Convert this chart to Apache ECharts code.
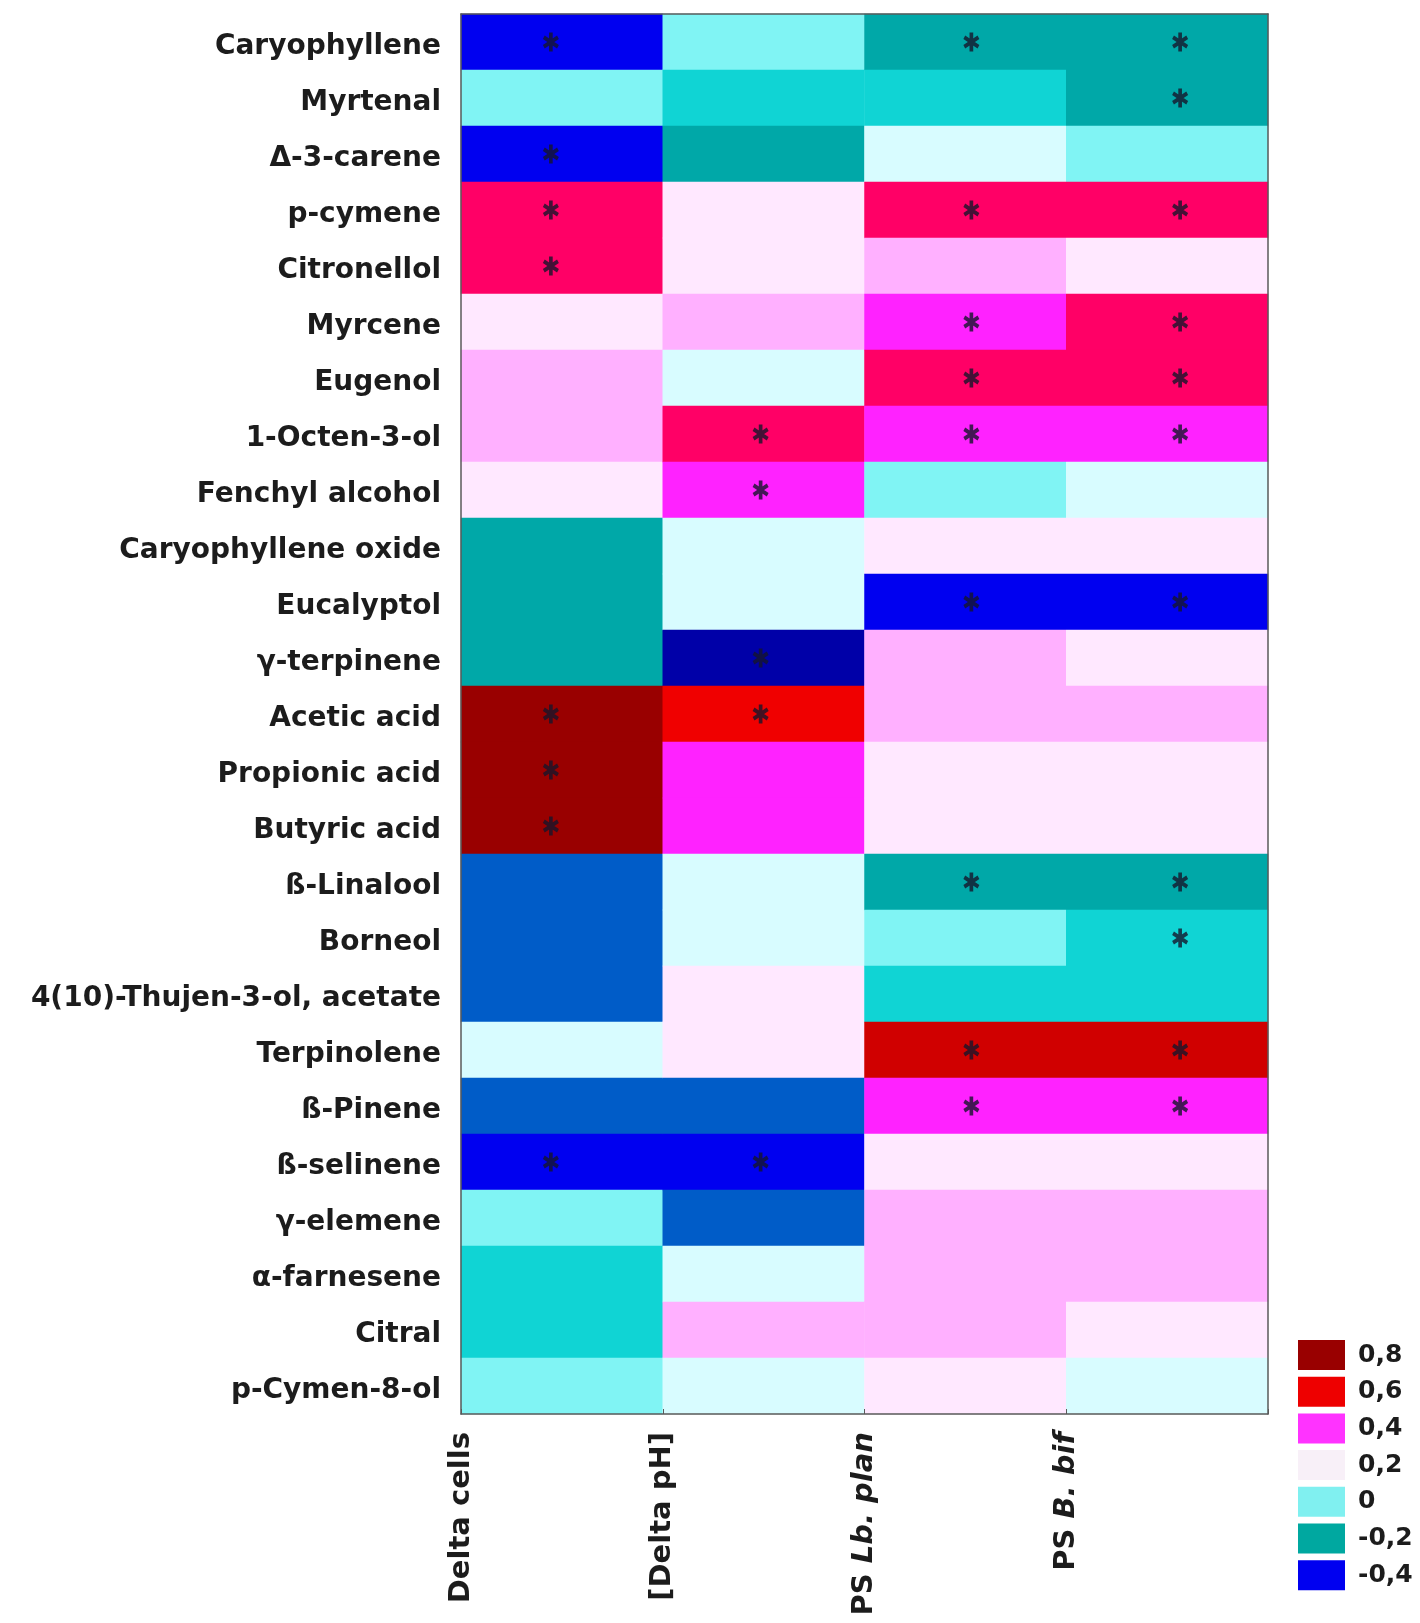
<!DOCTYPE html>
<html>
<head>
<meta charset="utf-8">
<title>Correlation heatmap of volatile compounds</title>
<script src="https://cdn.jsdelivr.net/npm/echarts@6/dist/echarts.min.js"></script>
<style>
  html, body { margin: 0; padding: 0; background: #ffffff; }
  #chart { width: 1420px; height: 1623px; }
</style>
</head>
<body>
<div id="chart"></div>
<script>
// Compounds, top to bottom
const compounds = [
  'Caryophyllene', 'Myrtenal', 'Δ-3-carene', 'p-cymene', 'Citronellol',
  'Myrcene', 'Eugenol', '1-Octen-3-ol', 'Fenchyl alcohol', 'Caryophyllene oxide',
  'Eucalyptol', 'γ-terpinene', 'Acetic acid', 'Propionic acid', 'Butyric acid',
  'ß-Linalool', 'Borneol', '4(10)-Thujen-3-ol, acetate', 'Terpinolene', 'ß-Pinene',
  'ß-selinene', 'γ-elemene', 'α-farnesene', 'Citral', 'p-Cymen-8-ol'
];

// Response variables (columns)
const variables = ['Delta cells', '[Delta pH]', 'PS Lb. plan', 'PS B. bif'];

// Correlation coefficients, one array per variable (same order as compounds)
const deltaCells = [-0.4, 0.0, -0.4, 0.5, 0.5, 0.2, 0.3, 0.3, 0.2, -0.2,
                    -0.2, -0.2, 0.8, 0.8, 0.8, -0.3, -0.3, -0.3, 0.1, -0.3,
                    -0.4, 0.0, -0.1, -0.1, 0.0];
const deltaPH    = [0.0, -0.1, -0.2, 0.2, 0.2, 0.3, 0.1, 0.5, 0.4, 0.1,
                    0.1, -0.5, 0.6, 0.4, 0.4, 0.1, 0.1, 0.2, 0.2, -0.3,
                    -0.4, -0.3, 0.1, 0.3, 0.1];
const psLbPlan   = [-0.2, -0.1, 0.1, 0.5, 0.3, 0.4, 0.5, 0.4, 0.0, 0.2,
                    -0.4, 0.3, 0.3, 0.2, 0.2, -0.2, 0.0, -0.1, 0.7, 0.4,
                    0.2, 0.3, 0.3, 0.3, 0.2];
const psBBif     = [-0.2, -0.2, 0.0, 0.5, 0.2, 0.5, 0.5, 0.4, 0.1, 0.2,
                    -0.4, 0.2, 0.3, 0.2, 0.2, -0.2, -0.1, -0.1, 0.7, 0.4,
                    0.2, 0.3, 0.3, 0.2, 0.1];

// Significance flags (1 = marked with an asterisk)
const sigDeltaCells = [1,0,1,1,1,0,0,0,0,0, 0,0,1,1,1,0,0,0,0,0, 1,0,0,0,0];
const sigDeltaPH    = [0,0,0,0,0,0,0,1,1,0, 0,1,1,0,0,0,0,0,0,0, 1,0,0,0,0];
const sigPsLbPlan   = [1,0,0,1,0,1,1,1,0,0, 1,0,0,0,0,1,0,0,1,1, 0,0,0,0,0];
const sigPsBBif     = [1,1,0,1,0,1,1,1,0,0, 1,0,0,0,0,1,1,0,1,1, 0,0,0,0,0];

// Legend levels
const legendValues = [-0.4, -0.2, 0, 0.2, 0.4, 0.6, 0.8];
const legendLabels = ['-0,4', '-0,2', '0', '0,2', '0,4', '0,6', '0,8'];

// ---- styling ----
const FONT = 'DejaVu Sans';
const TEXT = '#1c1c1c';
const BORDER = '#5a5a5a';
// colour ramp from -0.5 to 0.8 in steps of 0.1
const ramp = ['#0000a8', '#0000f0', '#005cc8', '#00a8a8', '#10d4d4', '#80f4f4', '#d8fcff',
              '#ffe8ff', '#ffb0ff', '#ff22ff', '#ff0066', '#f00000', '#d00000', '#990000'];
const legendColors = ['#0000f0', '#00a8a0', '#80f0f0', '#f8f0f8', '#ff33ff', '#ee0000', '#990000'];
const asteriskShift = [-11, -3, 6, 13];
const asteriskPath = 'path://M7.75,0 L12.25,0 L12.25,20 L7.75,20 Z ' +
  'M0.215,6.949 L2.465,3.051 L19.785,13.051 L17.535,16.949 Z ' +
  'M17.535,3.051 L19.785,6.949 L2.465,16.949 L0.215,13.051 Z';

const columns = [deltaCells, deltaPH, psLbPlan, psBBif];
const sigColumns = [sigDeltaCells, sigDeltaPH, sigPsLbPlan, sigPsBBif];

const heatData = [];
const starData = [];
columns.forEach(function (col, c) {
  col.forEach(function (v, r) {
    heatData.push([c, r, v]);
    if (sigColumns[c][r]) {
      starData.push({ value: [c, r], symbolOffset: [asteriskShift[c], 0] });
    }
  });
});

const chart = echarts.init(document.getElementById('chart'), null, { renderer: 'canvas' });

const option = {
  backgroundColor: '#ffffff',
  animation: false,
  grid: { left: 461, top: 14, right: 152, bottom: 209, containLabel: false },
  xAxis: [
    {
      type: 'category', data: variables, position: 'bottom', z: 10,
      axisLine: { show: true, lineStyle: { color: BORDER, width: 1.5 } },
      axisTick: { show: true, inside: true, length: 5, lineStyle: { color: BORDER } },
      axisLabel: { show: false }, splitLine: { show: false }
    },
    {
      type: 'value', min: 0, max: 4, interval: 1, position: 'bottom',
      axisLine: { show: false }, axisTick: { show: false }, splitLine: { show: false },
      axisLabel: {
        rotate: 90, margin: 18, color: TEXT, fontFamily: FONT, fontWeight: 'bold', fontSize: 29,
        showMinLabel: true, showMaxLabel: true,
        formatter: function (v) {
          const name = variables[Math.round(v)];
          if (!name) return '';
          if (name.indexOf('PS ') === 0) return 'PS {it|' + name.slice(3) + '}';
          return name;
        },
        rich: {
          it: { fontStyle: 'italic', fontWeight: 'bold', fontFamily: FONT, fontSize: 29, color: TEXT }
        }
      }
    },
    {
      type: 'category', data: variables, position: 'top', z: 10,
      axisLine: { show: true, lineStyle: { color: BORDER, width: 1.5 } },
      axisTick: { show: false }, axisLabel: { show: false }, splitLine: { show: false }
    }
  ],
  yAxis: [
    {
      type: 'category', data: compounds, inverse: true, position: 'left', z: 10,
      axisLine: { show: true, lineStyle: { color: BORDER, width: 1.5 } },
      axisTick: { show: false }, splitLine: { show: false },
      axisLabel: {
        margin: 20, color: TEXT, fontFamily: FONT, fontWeight: 'bold', fontSize: 28,
        formatter: function (name) { return '{n|' + name + '}'; },
        rich: {
          n: { fontFamily: FONT, fontWeight: 'bold', fontSize: 28, color: TEXT, padding: [9, 0, 0, 0] }
        }
      }
    },
    {
      type: 'category', data: compounds, inverse: true, position: 'right', z: 10,
      axisLine: { show: true, lineStyle: { color: BORDER, width: 1.5 } },
      axisTick: { show: false }, axisLabel: { show: false }, splitLine: { show: false }
    }
  ],
  visualMap: [
    {
      type: 'continuous', show: false, seriesIndex: 0, dimension: 2,
      min: -0.5, max: 0.8, inRange: { color: ramp }
    },
    {
      type: 'piecewise', seriesIndex: 2, orient: 'vertical', align: 'left',
      left: 1298, top: 1340, padding: 0,
      itemWidth: 47, itemHeight: 30, itemGap: 6.7, itemSymbol: 'rect',
      textGap: 13, selectedMode: false, hoverLink: false,
      textStyle: { color: TEXT, fontFamily: FONT, fontWeight: 'bold', fontSize: 25 },
      pieces: legendValues.map(function (v, i) {
        return { value: v, label: legendLabels[i], color: legendColors[i] };
      })
    }
  ],
  series: [
    {
      type: 'heatmap', xAxisIndex: 0, yAxisIndex: 0, data: heatData,
      itemStyle: { borderWidth: 0 }, emphasis: { disabled: true }, z: 2
    },
    {
      type: 'scatter', xAxisIndex: 0, yAxisIndex: 0, data: starData,
      symbol: asteriskPath, symbolSize: [16, 19],
      itemStyle: { color: '#15152a' }, z: 5, silent: true
    },
    {
      type: 'scatter', xAxisIndex: 0, yAxisIndex: 0, data: [], silent: true
    }
  ]
};

chart.setOption(option);
</script>
</body>
</html>
